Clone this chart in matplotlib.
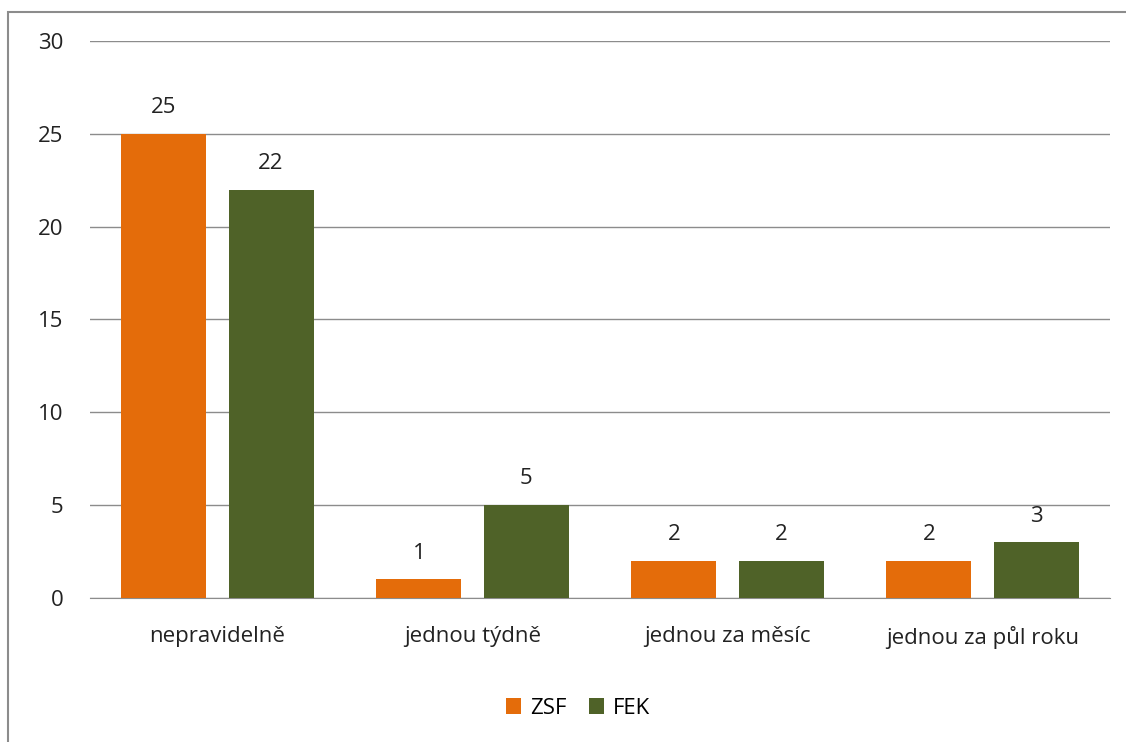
import matplotlib.pyplot as plt
import numpy as np
from matplotlib.patches import Rectangle

categories = ['nepravidelně', 'jednou týdně', 'jednou za měsíc', 'jednou za půl roku']
zsf = [25, 1, 2, 2]
fek = [22, 5, 2, 3]

plt.rcParams['font.family'] = ['Open Sans', 'DejaVu Sans']
fs = 16

fig = plt.figure(figsize=(11.26, 7.42), dpi=100)
ax = fig.add_axes([90 / 1126, 1 - 598 / 742, 1020 / 1126, 557 / 742])

# outer chart frame (only left and top edges fall inside the canvas)
fig.patches.append(Rectangle((8 / 1126, -0.1), 1.2, 1 - 12 / 742 + 0.1,
                             transform=fig.transFigure, fill=False,
                             edgecolor='#8c8c8c', linewidth=1.5))

x = np.arange(len(categories))
w = 0.333
b1 = ax.bar(x - 0.21, zsf, w, color='#E46C0A', label='ZSF', zorder=3)
b2 = ax.bar(x + 0.21, fek, w, color='#4F6228', label='FEK', zorder=3)

for bars in (b1, b2):
    for r in bars:
        ax.text(r.get_x() + r.get_width() / 2, r.get_height() + 0.85,
                f'{r.get_height():g}', ha='center', va='bottom', fontsize=fs,
                color='#222222')

ax.set_xlim(-0.5, 3.5)
ax.set_ylim(0, 30)
ax.set_yticks(range(0, 31, 5))
ax.yaxis.grid(True, color='#8c8c8c', linewidth=1, zorder=0)
ax.set_xticks(x)
ax.set_xticklabels(categories)
ax.tick_params(axis='both', length=0, labelsize=fs, colors='#222222')
ax.tick_params(axis='y', pad=19)
ax.tick_params(axis='x', pad=20)
for s in ['top', 'right', 'left']:
    ax.spines[s].set_visible(False)
ax.spines['bottom'].set_color('#8c8c8c')

fig.legend(loc='center', bbox_to_anchor=(578 / 1126, 1 - 708 / 742), ncol=2,
           frameon=False, fontsize=fs, handlelength=0.7, handleheight=0.7,
           handletextpad=0.4, columnspacing=1.0)

fig.savefig('out.png', dpi=100)
